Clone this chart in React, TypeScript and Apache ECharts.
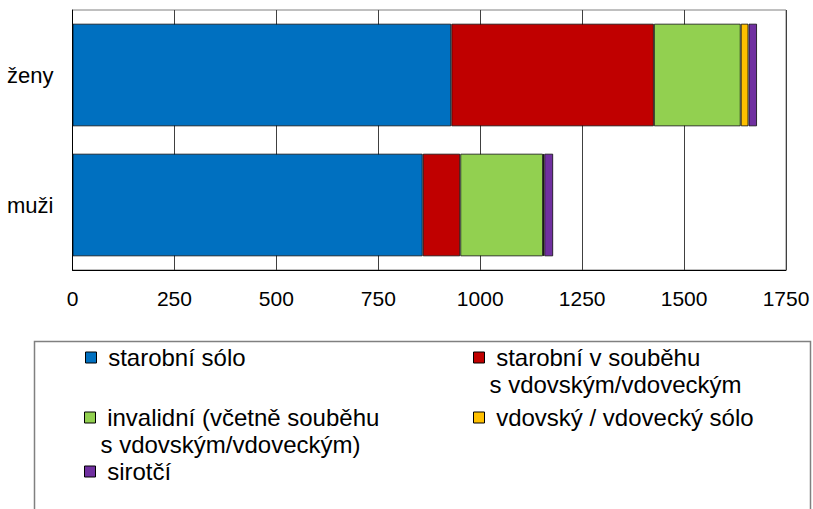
import React, { useEffect, useRef } from "react";
import * as echarts from "echarts";

const categories = ["ženy", "muži"];
const seriesNames = [
  "starobní sólo",
  "starobní v souběhu s vdovským/vdoveckým",
  "invalidní (včetně souběhu s vdovským/vdoveckým)",
  "vdovský / vdovecký sólo",
  "sirotčí",
];
const legendLabels = [
  " starobní sólo",
  " starobní v souběhu\ns vdovským/vdoveckým",
  " invalidní (včetně souběhu\ns vdovským/vdoveckým)",
  " vdovský / vdovecký sólo",
  " sirotčí",
];
const starobniSolo = [929, 859];
const starobniSoubeh = [497, 92];
const invalidni = [213, 203];
const vdovsky = [19, 3];
const sirotci = [21, 22];
const xTicks = [0, 250, 500, 750, 1000, 1250, 1500, 1750];

const seriesValues = [starobniSolo, starobniSoubeh, invalidni, vdovsky, sirotci];
const colors = ["#0070C0", "#C00000", "#92D050", "#FFC000", "#7030A0"];

const FONT = "'Liberation Sans', Arial, sans-serif";

export default function App() {
  const ref = useRef<HTMLDivElement>(null);
  useEffect(() => {
    if (!ref.current) return;
    const chart = echarts.init(ref.current, undefined, { renderer: "svg" });
    // legend item placement: [iconLeft, iconTop]
    const legendPlace: [number, number][] = [
      [85, 352],
      [473, 352],
      [84, 412],
      [473, 412],
      [84, 466],
    ];
    const LH = 27;
    const legends = seriesNames.map((name, i) => {
      const twoLine = legendLabels[i].includes("\n");
      const [lx, ly] = legendPlace[i];
      const label = twoLine ? "\n" + legendLabels[i] : legendLabels[i];
      return {
        data: [name],
        left: lx,
        top: twoLine ? ly + 5.5 - 1.5 * LH : ly + 5.5 - LH / 2,
        padding: 0,
        itemWidth: 11,
        itemHeight: 11,
        icon: "rect",
        selectedMode: false,
        formatter: () => label,
        itemStyle: { borderColor: "#000", borderWidth: 1 },
        textStyle: {
          fontFamily: FONT,
          fontSize: 24,
          color: "#000",
          lineHeight: LH,
        },
      };
    });
    chart.setOption({
      animation: false,
      backgroundColor: "#fff",
      grid: {
        left: 72.5,
        right: 27,
        top: 10,
        bottom: 239,
        show: true,
        borderColor: "#808080",
        borderWidth: 1,
        outerBoundsMode: "none",
      },
      xAxis: {
        type: "value",
        min: 0,
        max: 1750,
        interval: 250,
        axisLine: { show: true, lineStyle: { color: "#000", width: 1 } },
        axisTick: { show: false },
        splitLine: { show: true, lineStyle: { color: "#404040", width: 1 } },
        axisLabel: {
          margin: 18,
          fontFamily: FONT,
          fontSize: 21,
          color: "#000",
          formatter: (v: number) => (xTicks.includes(v) ? String(v) : ""),
        },
      },
      yAxis: {
        type: "category",
        data: categories,
        inverse: true,
        axisLine: { show: true, lineStyle: { color: "#000", width: 1 } },
        axisTick: { show: false },
        axisLabel: { margin: 19, fontFamily: FONT, fontSize: 22, color: "#000" },
      },
      legend: legends,
      graphic: [
        {
          type: "rect",
          shape: { x: 34.5, y: 341.5, width: 776, height: 200 },
          style: { fill: "none", stroke: "#808080", lineWidth: 1.5 },
          silent: true,
          z: -1,
        },
      ],
      series: seriesNames.map((name, i) => ({
        name,
        type: "bar",
        stack: "total",
        barWidth: "79%",
        data: seriesValues[i],
        itemStyle: {
          color: colors[i],
          borderColor: "rgba(0,0,0,0.75)",
          borderWidth: 1,
        },
      })),
    });
    return () => chart.dispose();
  }, []);
  return (
    <div
      ref={ref}
      style={{ position: "fixed", left: 0, top: 0, width: 813, height: 509 }}
    />
  );
}
